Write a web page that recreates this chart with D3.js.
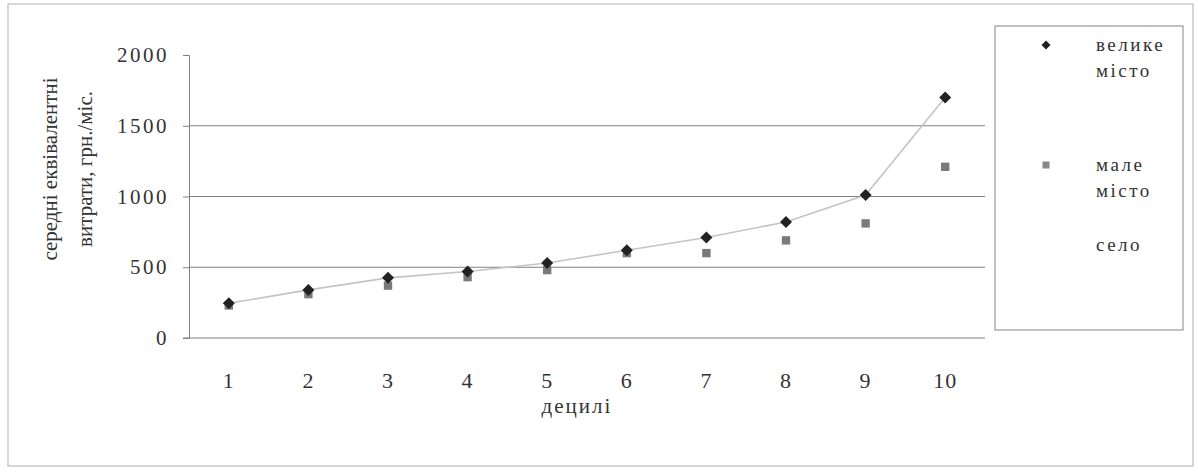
<!DOCTYPE html>
<html><head><meta charset="utf-8">
<script src="https://cdn.jsdelivr.net/npm/d3@7"></script>
<style>body{margin:0;background:#fff}svg{display:block}text{font-family:"Liberation Serif","Times New Roman",serif;fill:#333}</style>
</head><body><svg id="c" width="1198" height="472"></svg>
<script>
const deciles = [1,2,3,4,5,6,7,8,9,10];
const bigCity = [245,340,425,470,530,620,710,820,1010,1700];
const smallCity = [230,310,370,430,480,600,600,690,810,1210];
const yTicks = [0,500,1000,1500,2000];
const seriesNames = ["велике місто","мале місто","село"];

const svg = d3.select("#c");
const L=189, R=985, T=55, B=338;
const x = d3.scaleBand().domain(deciles).range([L,R]);
const y = d3.scaleLinear().domain([0,2000]).range([B,T]);
const cx = d => x(d)+x.bandwidth()/2;
const diamond = {draw(ctx,size){const r=Math.sqrt(size)/2;ctx.moveTo(0,-r);ctx.lineTo(r,0);ctx.lineTo(0,r);ctx.lineTo(-r,0);ctx.closePath();}};

// outer frame
svg.append("rect").attr("x",8).attr("y",4).attr("width",1185).attr("height",462)
  .attr("fill","none").attr("stroke","#bbb").attr("stroke-width",1.2);

// gridlines
svg.append("g").selectAll("line").data(yTicks.filter(v=>v>0 && v<2000)).join("line")
  .attr("x1",L).attr("x2",R).attr("y1",d=>y(d)).attr("y2",d=>y(d))
  .attr("stroke","#808080").attr("stroke-width",1);

// y axis
const ya = svg.append("g").attr("transform",`translate(${L},0)`)
  .call(d3.axisLeft(y).tickValues(yTicks).tickSize(6).tickPadding(14).tickFormat(d3.format("d")));
ya.select(".domain").attr("stroke","#808080");
ya.selectAll(".tick line").attr("stroke","#808080");
ya.selectAll(".tick text").attr("font-size",21).attr("letter-spacing",2.5).attr("fill","#333").style("font-family","Liberation Serif");

// x axis
const xa = svg.append("g").attr("transform",`translate(0,${B})`)
  .call(d3.axisBottom(x).tickSize(0).tickPadding(34));
xa.select(".domain").attr("stroke","#808080").attr("d",`M${L-6},0H${R}`);
xa.selectAll(".tick text").attr("font-size",22).attr("letter-spacing",1).attr("fill","#333").style("font-family","Liberation Serif");

// line
svg.append("path").datum(deciles.map((d,i)=>[cx(d),y(bigCity[i])]))
  .attr("d",d3.line()).attr("fill","none").attr("stroke","#c4c4c4").attr("stroke-width",1.6);

// small city squares
svg.append("g").selectAll("path").data(deciles).join("path")
  .attr("d",d3.symbol(d3.symbolSquare,70))
  .attr("transform",(d,i)=>`translate(${cx(d)},${y(smallCity[i])})`)
  .attr("fill","#7a7a7a");
// big city diamonds
svg.append("g").selectAll("path").data(deciles).join("path")
  .attr("d",d3.symbol(diamond,144))
  .attr("transform",(d,i)=>`translate(${cx(d)},${y(bigCity[i])})`)
  .attr("fill","#222");

// axis titles
svg.append("text").attr("x",(L+R)/2-10).attr("y",413).attr("text-anchor","middle")
  .attr("font-size",21).attr("letter-spacing",2).text("децилі");
const yt = svg.append("text").attr("transform","translate(57,169) rotate(-90)").attr("text-anchor","middle").attr("font-size",21);
yt.append("tspan").attr("x",0).attr("dy",0).text("середні еквівалентні");
yt.append("tspan").attr("x",0).attr("dy",35).text("витрати, грн./міс.");

// legend
svg.append("rect").attr("x",995).attr("y",26).attr("width",188).attr("height",304)
  .attr("fill","#fff").attr("stroke","#999").attr("stroke-width",1.2);
const lg = [
  {lines:["велике","місто"], y:45, sym:diamond, size:81, fill:"#222"},
  {lines:["мале","місто"], y:165, sym:d3.symbolSquare, size:49, fill:"#888"},
  {lines:["село"], y:245, sym:null}
];
lg.forEach(it=>{
  if(it.sym) svg.append("path").attr("d",d3.symbol(it.sym,it.size)).attr("transform",`translate(1046,${it.y})`).attr("fill",it.fill);
  it.lines.forEach((t,j)=>svg.append("text").attr("x",1096).attr("y",it.y+6+j*26).attr("font-size",19).attr("letter-spacing",2.5).text(t));
});
</script></body></html>
